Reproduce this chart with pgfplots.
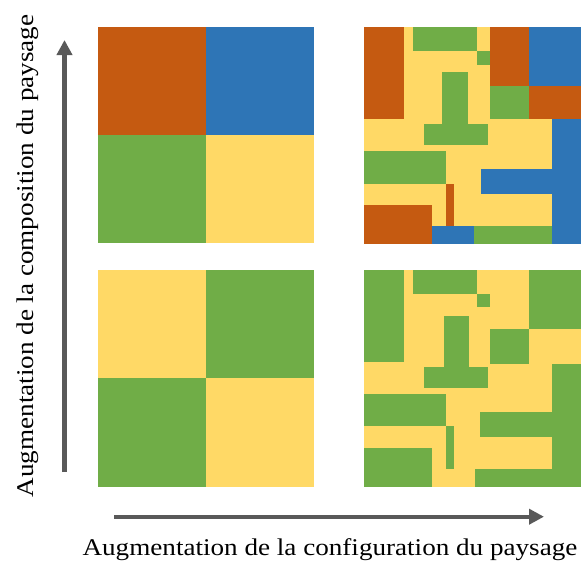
\documentclass[border=0pt]{standalone}
\usepackage{pgfplots}
\usepackage{fontspec}
\setmainfont{Liberation Serif}
\pgfplotsset{compat=1.18}
\usetikzlibrary{arrows.meta}
\definecolor{co}{HTML}{C55A11}
\definecolor{cb}{HTML}{2E75B6}
\definecolor{cg}{HTML}{70AD47}
\definecolor{cy}{HTML}{FFD966}
\definecolor{ca}{HTML}{595959}
% rectangle from (x0,y0) to (x1,y1) in reference pixels
\newcommand{\R}[5]{\addplot[fill=#1,draw=none,forget plot] coordinates {(#2,#4) (#3,#4) (#3,#5) (#2,#5)} -- cycle;}
% zoom-space rectangles of the right-hand panels
\newcommand{\T}[5]{\addplot[fill=#1,draw=none,forget plot] table[x expr=355+\thisrow{u}/3,y expr=15+\thisrow{v}/3,row sep=\\] {u v\\ #2 #4\\ #3 #4\\ #3 #5\\ #2 #5\\} -- cycle;}
\newcommand{\B}[5]{\addplot[fill=#1,draw=none,forget plot] table[x expr=355+\thisrow{u}/3,y expr=260+\thisrow{v}/3,row sep=\\] {u v\\ #2 #4\\ #3 #4\\ #3 #5\\ #2 #5\\} -- cycle;}
\begin{document}
\begin{tikzpicture}
\path[use as bounding box] (0,0) rectangle (583pt,562pt);
\begin{axis}[at={(0,0)},anchor=south west,scale only axis,width=583pt,height=562pt,xmin=0,xmax=583,ymin=0,ymax=562,y dir=reverse,axis lines=none,clip=false]
% left panels
\R{co}{98}{206}{27}{135}
\R{cb}{206}{314}{27}{135}
\R{cg}{98}{206}{135}{243}
\R{cy}{206}{314}{135}{243}
\R{cy}{98}{206}{270}{378}
\R{cg}{206}{314}{270}{378}
\R{cg}{98}{206}{378}{487}
\R{cy}{206}{314}{378}{487}
% top right
\T{cy}{28}{678}{37}{686}
\T{co}{28}{146}{37}{312}
\T{cg}{173}{365}{37}{107}
\T{cg}{365}{406}{107}{149}
\T{co}{406}{523}{37}{212}
\T{cb}{523}{678}{37}{212}
\T{cg}{406}{523}{212}{312}
\T{co}{523}{678}{212}{312}
\T{cg}{262}{338}{170}{327}
\T{cg}{207}{400}{327}{391}
\T{cb}{592}{678}{312}{686}
\T{cb}{378}{592}{462}{537}
\T{cg}{28}{273}{408}{506}
\T{co}{273}{297}{506}{633}
\T{co}{28}{232}{570}{686}
\T{cb}{232}{358}{633}{686}
\T{cg}{358}{592}{633}{686}
% bottom right
\B{cy}{28}{678}{31}{680}
\B{cg}{28}{146}{31}{305}
\B{cg}{173}{365}{31}{101}
\B{cg}{365}{406}{101}{142}
\B{cg}{521}{678}{31}{206}
\B{cg}{406}{521}{206}{311}
\B{cg}{266}{343}{167}{321}
\B{cg}{207}{400}{321}{385}
\B{cg}{592}{678}{311}{680}
\B{cg}{375}{592}{456}{531}
\B{cg}{28}{273}{402}{498}
\B{cg}{273}{297}{498}{627}
\B{cg}{28}{232}{564}{680}
\B{cg}{360}{592}{627}{680}
% arrows
\addplot[ca,line width=4.4pt,-{Triangle[length=15pt,width=15pt]},forget plot] coordinates {(64.5,472) (64.5,40)};
\addplot[ca,line width=4.4pt,-{Triangle[length=15pt,width=15pt]},forget plot] coordinates {(114,516.7) (544,516.7)};
\node[font=\fontsize{24}{28}\selectfont,rotate=90,xscale=1.13,anchor=base] at (axis cs:33.5,256) {Augmentation de la composition du paysage};
\node[font=\fontsize{24}{28}\selectfont,xscale=1.13,anchor=base] at (axis cs:330,555.5) {Augmentation de la configuration du paysage};
\end{axis}
\end{tikzpicture}
\end{document}
